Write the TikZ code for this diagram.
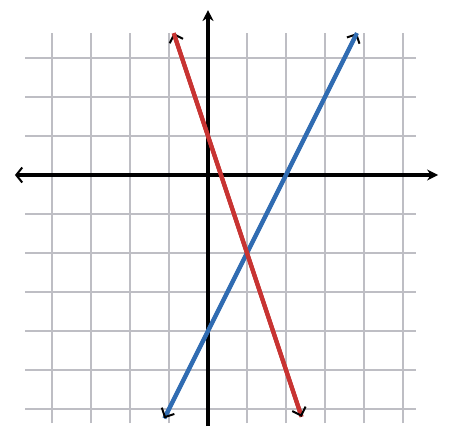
\documentclass[tikz,border=0pt]{standalone}
\usetikzlibrary{arrows.meta}
\definecolor{gridgray}{RGB}{190,190,196}
\definecolor{linered}{RGB}{200,52,50}
\definecolor{lineblue}{RGB}{48,108,178}
\tikzset{
  gridline/.style={gridgray,line width=2pt},
  axisline/.style={black,line width=3.2pt},
  graphline/.style={line width=4.2pt},
  barb/.style={-{Straight Barb[length=7pt,width=14pt,line width=2pt,black]}},
}
\begin{document}
\begin{tikzpicture}[x=39pt,y=39pt]
\useasboundingbox (-5.3333,-6.5897) rectangle (6.2564,4.4872);
\fill[white] (-5.3333,-6.5897) rectangle (6.2564,4.4872);
% grid
\foreach \i in {-4,...,5} \draw[gridline] (\i,-6.36) -- (\i,3.64);
\foreach \j in {-6,...,3} \draw[gridline] (-4.69,\j) -- (5.33,\j);
% axes
\coordinate (xl) at (-4.95,0);
\coordinate (xr) at (5.9,0);
\coordinate (yb) at (0,-6.44);
\coordinate (yt) at (0,4.23);
\draw[axisline,-{Stealth[length=11pt,width=11pt]}] (yb) -- (yt);
\draw[axisline,{Straight Barb[length=6pt,width=15pt,line width=2pt]}-{Stealth[length=11pt,width=11pt]}] (xl) -- (xr);
% lines
\coordinate (rt) at (-0.88,3.64);
\coordinate (rb) at (2.4,-6.2);
\coordinate (bt) at (3.82,3.64);
\coordinate (bb) at (-1.12,-6.24);
\draw[graphline,lineblue,barb] (bb) -- (bt);
\draw[graphline,lineblue,barb] (bt) -- (bb);
\draw[graphline,linered,barb] (rb) -- (rt);
\draw[graphline,linered,barb] (rt) -- (rb);
\end{tikzpicture}
\end{document}
